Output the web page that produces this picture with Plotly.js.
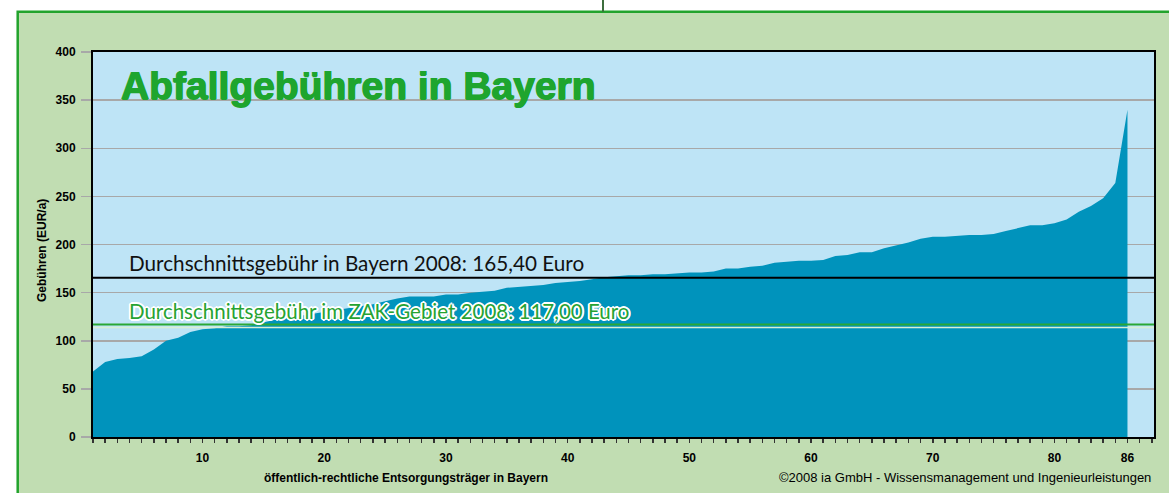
<!DOCTYPE html>
<html><head><meta charset="utf-8">
<script src="https://cdn.plot.ly/plotly-3.0.1.min.js"></script>
<style>html,body{margin:0;padding:0;background:#fff;} #chart{width:1169px;height:493px;}</style>
</head><body><div id="chart"></div>
<script>
// öffentlich-rechtliche Entsorgungsträger (Rang 1..86)
const traeger = [1,2,3,4,5,6,7,8,9,10,11,12,13,14,15,16,17,18,19,20,
  21,22,23,24,25,26,27,28,29,30,31,32,33,34,35,36,37,38,39,40,
  41,42,43,44,45,46,47,48,49,50,51,52,53,54,55,56,57,58,59,60,
  61,62,63,64,65,66,67,68,69,70,71,72,73,74,75,76,77,78,79,80,
  81,82,83,84,85,86];
// Gebühren (EUR/a)
const gebuehren = [68,78,81,82,84,91,100,103,109,112,113,115,115,116,119,122,124,126,128,130,
  132,134,136,138,141,144,146,146,146,148,148,150,151,152,155,156,157,158,160,161,
  162,164,166,167,168,168,169,169,170,171,171,172,175,175,177,178,181,182,183,183,
  184,188,189,192,192,196,199,202,206,208,208,209,210,210,211,214,217,220,220,222,
  226,234,240,248,264,340];
const xTickValues = [10,20,30,40,50,60,70,80,86];
const xTickLabels = ['10','20','30','40','50','60','70','80','86'];
const avgBayern = 165.4;
const avgZAK = 117.0;
const titleText = 'Abfallgebühren in Bayern';
const labelBayern = 'Durchschnittsgebühr in Bayern 2008: 165,40 Euro';
const labelZAK = 'Durchschnittsgebühr im ZAK-Gebiet 2008: 117,00 Euro';
const xTitle = 'öffentlich-rechtliche Entsorgungsträger in Bayern';
const yTitle = 'Gebühren (EUR/a)';
const credit = '©2008 ia GmbH - Wissensmanagement und Ingenieurleistungen';

const trace = {
  x: traeger, y: gebuehren, type: 'scatter', mode: 'lines',
  fill: 'tozeroy', fillcolor: '#0093bc', line: {width: 0, color: '#0093bc'},
  hoverinfo: 'x+y'
};

const halo = '2px 0 0 #fff, -2px 0 0 #fff, 0 2px 0 #fff, 0 -2px 0 #fff, 1.4px 1.4px 0 #fff, -1.4px -1.4px 0 #fff, 1.4px -1.4px 0 #fff, -1.4px 1.4px 0 #fff';
const heavy = '0.7px 0 0 #1ea52e, -0.7px 0 0 #1ea52e, 0 0.5px 0 #1ea52e';

const layout = {
  width: 1169, height: 493,
  margin: {l: 93, r: 15, t: 52, b: 56, pad: 0},
  paper_bgcolor: '#ffffff',
  plot_bgcolor: 'rgba(0,0,0,0)',
  showlegend: false,
  font: {family: 'Liberation Sans, Arial, sans-serif', color: '#000'},
  xaxis: {
    range: [1, 88.18], showgrid: false, zeroline: false,
    tickmode: 'array', tickvals: xTickValues, ticktext: xTickLabels,
    ticks: 'outside', ticklen: 4, tickwidth: 1.5, tickcolor: '#333',
    ticklabelstandoff: 5,
    tickfont: {family: 'Liberation Sans, Arial, sans-serif', size: 12, weight: 'bold', color: '#000'},
    minor: {tickmode: 'linear', tick0: 1, dtick: 1, ticks: 'outside', ticklen: 4, tickwidth: 1.5, tickcolor: '#333', showgrid: false},
    showline: true, linecolor: '#000', linewidth: 2, mirror: true
  },
  yaxis: {
    range: [0, 400], dtick: 50, tick0: 0,
    showgrid: true, gridcolor: '#a8a8a8', gridwidth: 1.5, zeroline: false,
    ticks: 'outside', ticklen: 10, tickwidth: 1.5, tickcolor: '#a8a8a8',
    ticklabelstandoff: 3,
    tickfont: {family: 'Liberation Sans, Arial, sans-serif', size: 12, weight: 'bold', color: '#000'},
    showline: true, linecolor: '#000', linewidth: 2, mirror: true
  },
  shapes: [
    {type: 'rect', xref: 'paper', yref: 'paper', x0: -0.07097, x1: 1.05, y0: -0.2, y1: 1.1044,
     fillcolor: '#c1ddb2', line: {color: '#22a32c', width: 2.5}, layer: 'below'},
    {type: 'line', xref: 'paper', yref: 'paper', x0: 0.4807, x1: 0.4807, y0: 1.1044, y1: 1.14,
     line: {color: '#3d6e3d', width: 2}, layer: 'below'},
    {type: 'rect', xref: 'paper', yref: 'paper', x0: 0, x1: 1, y0: 0, y1: 1,
     fillcolor: '#bee4f6', line: {width: 0}, layer: 'below'},
    {type: 'line', xref: 'paper', yref: 'y', x0: 0, x1: 1, y0: avgBayern, y1: avgBayern,
     line: {color: '#000', width: 2}, layer: 'above'},
    {type: 'line', xref: 'paper', yref: 'y', x0: 0, x1: 1, ysizemode: 'pixel', yanchor: avgZAK, y0: -3, y1: -3,
     line: {color: '#d9efd4', width: 1.5}, layer: 'above'},
    {type: 'line', xref: 'paper', yref: 'y', x0: 0, x1: 1, y0: avgZAK, y1: avgZAK,
     line: {color: '#2aa836', width: 2}, layer: 'above'}
  ],
  annotations: [
    {text: titleText, xref: 'paper', yref: 'paper', x: 0.0245, y: 0.9117, xanchor: 'left', yanchor: 'middle',
     showarrow: false, font: {family: 'Liberation Sans, Arial, sans-serif', size: 39, weight: 'bold', color: '#1ea52e', shadow: heavy}},
    {text: labelBayern, xref: 'paper', yref: 'y', x: 0.032, y: 180.8, xanchor: 'left', yanchor: 'middle',
     showarrow: false, font: {family: 'Lato, sans-serif', size: 20.7, color: '#111'}},
    {text: labelZAK, xref: 'paper', yref: 'y', x: 0.032, y: 130.9, xanchor: 'left', yanchor: 'middle',
     showarrow: false, font: {family: 'Lato, sans-serif', size: 20.5, color: '#26a332', shadow: halo}},
    {text: xTitle, xref: 'paper', yref: 'paper', x: 0.295, y: -0.1057, xanchor: 'center', yanchor: 'middle',
     showarrow: false, font: {family: 'Liberation Sans, Arial, sans-serif', size: 12, weight: 'bold', color: '#000'}},
    {text: credit, xref: 'paper', yref: 'paper', x: 0.99906, y: -0.1039, xanchor: 'right', yanchor: 'middle',
     showarrow: false, font: {family: 'Liberation Sans, Arial, sans-serif', size: 13, color: '#000'}},
    {text: yTitle, xref: 'paper', yref: 'paper', x: -0.04807, y: 0.4857, xanchor: 'center', yanchor: 'middle',
     textangle: -90, showarrow: false, font: {family: 'Liberation Sans, Arial, sans-serif', size: 12, weight: 'bold', color: '#000'}}
  ]
};

Plotly.newPlot('chart', [trace], layout, {displayModeBar: false, staticPlot: true});
</script>
</body></html>
